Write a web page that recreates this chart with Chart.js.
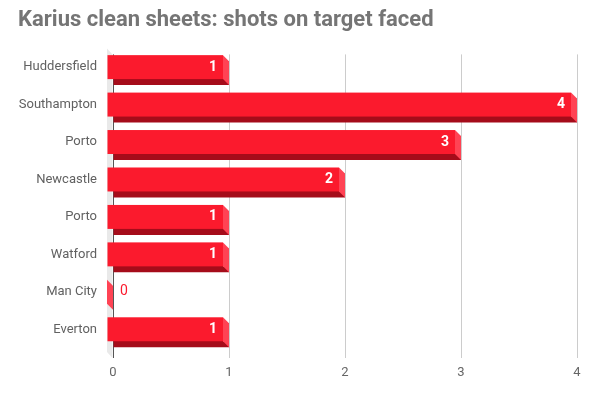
<!DOCTYPE html>
<html>
<head>
<meta charset="utf-8">
<script src="https://cdn.jsdelivr.net/npm/chart.js@4.4.0/dist/chart.umd.min.js"></script>
<style>
  html, body { margin: 0; padding: 0; background: #fff; }
  #wrap { width: 600px; height: 397px; }
</style>
</head>
<body>
<div id="wrap"><canvas id="grafica" width="600" height="397"></canvas></div>
<script>
const partidos = ["Huddersfield", "Southampton", "Porto", "Newcastle", "Porto", "Watford", "Man City", "Everton"];
const tirosAPuerta = [1, 4, 3, 2, 1, 1, 0, 1];
const ticksX = [0, 1, 2, 3, 4];

const rojo = "#fb1a2d";
const rojoOscuro = "#a50c1a";
const rojoLado = "#ff4354";
const prof = 6; // profundidad del efecto 3D

// pared gris de la izquierda
const pared = {
  id: "pared",
  beforeDatasetsDraw(chart) {
    const { ctx, chartArea } = chart;
    const x0 = chart.scales.x.getPixelForValue(0);
    ctx.save();
    ctx.fillStyle = "#e9e9e9";
    ctx.beginPath();
    ctx.moveTo(x0 - prof, chartArea.top - prof);
    ctx.lineTo(x0 - 0.5, chartArea.top);
    ctx.lineTo(x0 - 0.5, chartArea.bottom + 4);
    ctx.lineTo(x0 - prof, chartArea.bottom + 4 - prof);
    ctx.closePath();
    ctx.fill();
    ctx.restore();
  }
};

// caras de las barras y etiquetas
const barras3d = {
  id: "barras3d",
  afterDatasetsDraw(chart) {
    const { ctx } = chart;
    const meta = chart.getDatasetMeta(0);
    ctx.save();
    meta.data.forEach((bar, i) => {
      const p = bar.getProps(["x", "y", "base", "height"], true);
      const arriba = p.y - p.height / 2;
      const abajo = p.y + p.height / 2;
      // lado derecho
      ctx.fillStyle = rojoLado;
      ctx.beginPath();
      ctx.moveTo(p.x - prof, arriba - prof);
      ctx.lineTo(p.x, arriba);
      ctx.lineTo(p.x, abajo);
      ctx.lineTo(p.x - prof, abajo - prof);
      ctx.closePath();
      ctx.fill();
      // cara frontal
      ctx.fillStyle = rojo;
      ctx.fillRect(p.base - prof, arriba - prof, p.x - p.base, p.height);
      // etiqueta
      const v = tirosAPuerta[i];
      ctx.textBaseline = "middle";
      if (v > 0) {
        ctx.font = "bold 14px Roboto";
        ctx.fillStyle = "#ffffff";
        ctx.textAlign = "right";
        ctx.fillText(v, p.x - prof - 6, p.y - prof);
      } else {
        ctx.font = "14px Roboto";
        ctx.fillStyle = rojo;
        ctx.textAlign = "left";
        ctx.fillText(v, p.x + 7, p.y - prof);
      }
    });
    ctx.restore();
  }
};

new Chart(document.getElementById("grafica"), {
  type: "bar",
  data: {
    labels: partidos,
    datasets: [{
      data: tirosAPuerta,
      backgroundColor: rojoOscuro,
      borderWidth: 0,
      barPercentage: 0.64,
      categoryPercentage: 1
    }]
  },
  options: {
    indexAxis: "y",
    responsive: false,
    animation: false,
    layout: { padding: { left: 18, right: 23, top: 0, bottom: 0 } },
    plugins: {
      legend: { display: false },
      tooltip: { enabled: false },
      title: {
        display: true,
        text: "Karius clean sheets: shots on target faced",
        align: "start",
        color: "#757575",
        font: { family: "Roboto", size: 22, weight: "bold" },
        padding: { top: 7, bottom: 21 }
      }
    },
    scales: {
      x: {
        min: 0,
        max: 4,
        afterBuildTicks(scale) { scale.ticks = ticksX.map(v => ({ value: v })); },
        afterFit(scale) { scale.height = 43; },
        border: { display: false },
        grid: {
          color: c => c.tick && c.tick.value === 0 ? "#555555" : "#cccccc",
          tickLength: 4,
          tickColor: c => c.tick && c.tick.value === 0 ? "#555555" : "#cccccc"
        },
        ticks: { color: "#666666", font: { family: "Roboto", size: 13 }, padding: 7 }
      },
      y: {
        afterFit(scale) { scale.width = 95; },
        border: { display: false },
        grid: { display: false, drawTicks: false },
        ticks: {
          color: "#616161",
          font: { family: "Roboto", size: 13 },
          padding: 16,
          labelOffset: -prof
        }
      }
    }
  },
  plugins: [pared, barras3d]
});
</script>
</body>
</html>
